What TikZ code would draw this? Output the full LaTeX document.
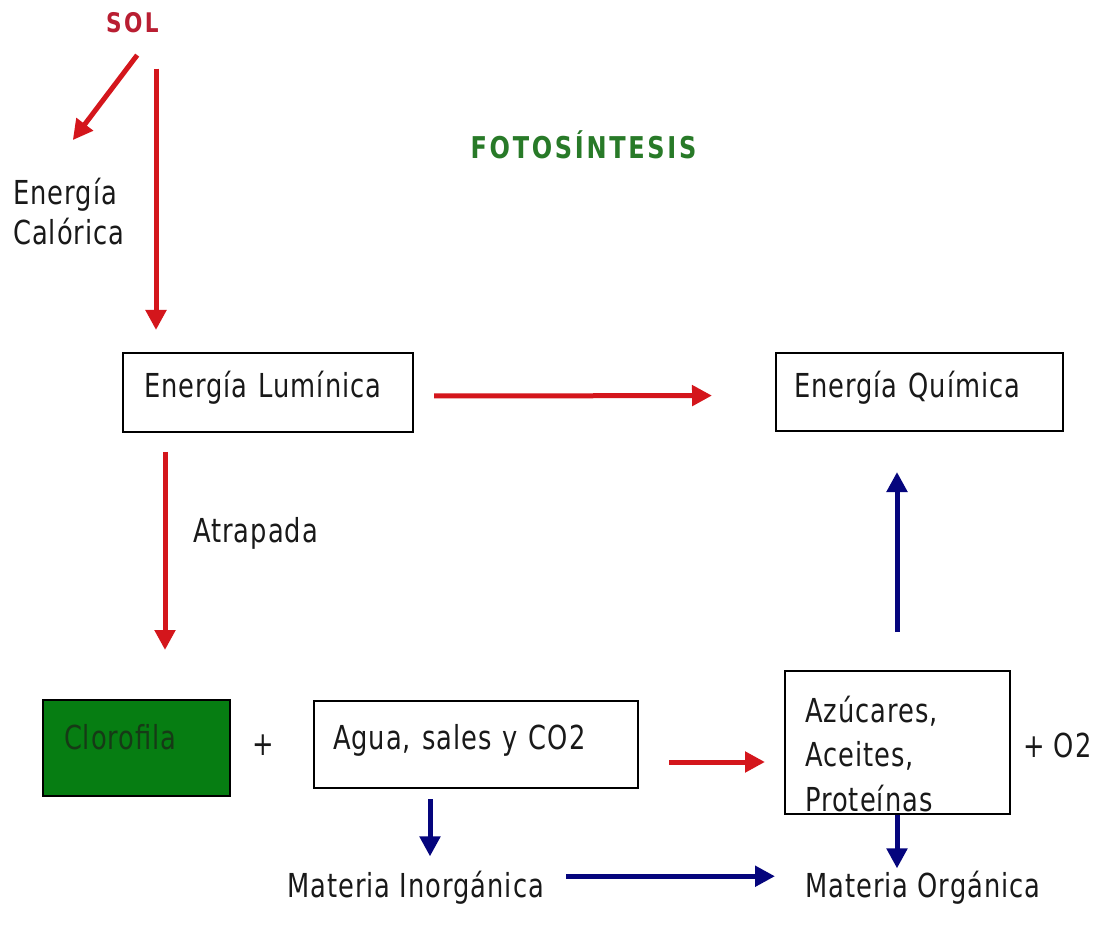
\documentclass[tikz,border=0pt]{standalone}
\usepackage{fontspec}
\setmainfont{DejaVu Sans}[FakeStretch=0.78, LetterSpace=3]
\newfontfamily\titfont{DejaVu Sans}[FakeStretch=0.8, LetterSpace=9]
\usetikzlibrary{arrows.meta,calc}
\definecolor{arrred}{RGB}{212,22,28}
\definecolor{arrblue}{RGB}{5,5,125}
\definecolor{solred}{RGB}{185,30,50}
\definecolor{titgreen}{RGB}{40,122,40}
\definecolor{clfill}{RGB}{6,125,18}
\definecolor{cltext}{RGB}{22,58,22}
\definecolor{txt}{RGB}{25,25,25}
\begin{document}
\begin{tikzpicture}[x=1pt,y=-1pt,
  every node/.style={font=\fontsize{33}{40}\selectfont, text=txt},
  box/.style={draw=black, line width=2pt, align=left, inner ysep=0pt, anchor=north west},
  lbl/.style={inner sep=0pt, anchor=base west, align=left},
  tip/.style={-{Triangle[length=20pt,width=20pt]}},
  redarr/.style={draw=arrred, line width=5pt, tip},
  bluarr/.style={draw=arrblue, line width=5pt, tip}]
\path[fill=white] (0,0) rectangle (1104,933);

% titles
\node[inner sep=0pt, anchor=base, font=\titfont\bfseries\fontsize{27}{30}\selectfont, text=solred] (sol) at (132.5,33) {SOL};
\node[inner sep=0pt, anchor=base, font=\titfont\bfseries\fontsize{30}{34}\selectfont, text=titgreen] (title) at (583.5,159) {FOTOSÍNTESIS};

% boxes
\node[box, inner xsep=21pt, text width=248pt, text height=45pt, text depth=34pt] (luz) at (122,352) {Energía Lumínica};
\node[box, inner xsep=18pt, text width=251pt, text height=45pt, text depth=33pt] (quim) at (775,352) {Energía Química};
\node[box, fill=clfill, text=cltext, inner xsep=21pt, text width=145pt, text height=49pt, text depth=47pt] (cloro) at (42,699) {Clorofila};
\node[box, inner xsep=19pt, text width=286pt, text height=48pt, text depth=39pt] (agua) at (313,700) {Agua, sales y CO2};
\node[box, minimum width=225pt, minimum height=143pt, inner sep=0pt] (azu) at (784,670) {};
\node[lbl, font=\fontsize{33}{44.5}\selectfont] (azut) at (805,811) {Azúcares,\\Aceites,\\Proteínas};

% labels
\node[lbl, font=\fontsize{33}{40}\selectfont] (cal) at (13,245) {Energía\\Calórica};
\node[lbl] (atr) at (193,542) {Atrapada};
\node[inner sep=0pt] (plus) at (263,745) {+};
\node[lbl] (o2) at (1023,757) {+ O2};
\node[lbl] (inorg) at (287,897) {Materia Inorgánica};
\node[lbl] (org) at (805,897) {Materia Orgánica};

% connectors
\draw[redarr, shorten <=27pt, shorten >=48pt] ($(sol.south)+(21,0)$) -- ($(cal.north)+(-25,0)$);
\draw[redarr, shorten <=35pt, shorten >=22pt] ($(sol.south)+(23.5,0)$) -- ($(sol.south |- luz.north)+(23.5,0)$);
\draw[redarr, shorten <=20pt, shorten >=63pt] ($(luz.east)+(0,3.5)$) -- ($(quim.west)+(0,3.5)$);
\draw[redarr, shorten <=19pt, shorten >=49pt] ($(luz.south west)+(43,0)$) -- ($(luz.south west |- cloro.north)+(43,0)$);
\draw[bluarr, shorten <=38pt, shorten >=40pt] ($(azu.north west)+(113,0)$) -- ($(azu.north west |- quim.south)+(113,0)$);
\draw[redarr, shorten <=30pt, shorten >=19pt] ($(agua.east)+(0,17.5)$) -- ($(azu.west |- agua.east)+(0,17.5)$);
\draw[bluarr, shorten <=10pt, shorten >=14pt] ($(agua.south west)+(117,0)$) -- ($(agua.south west |- inorg.north)+(117,0)$);
\draw[bluarr, shorten >=2pt] ($(azu.south west)+(113,0)$) -- ($(azu.south west |- org.north)+(113,0)$);
\draw[bluarr, shorten <=22pt, shorten >=30pt] ($(inorg.east)+(0,-11)$) -- ($(org.west)+(0,-11)$);
\end{tikzpicture}
\end{document}
